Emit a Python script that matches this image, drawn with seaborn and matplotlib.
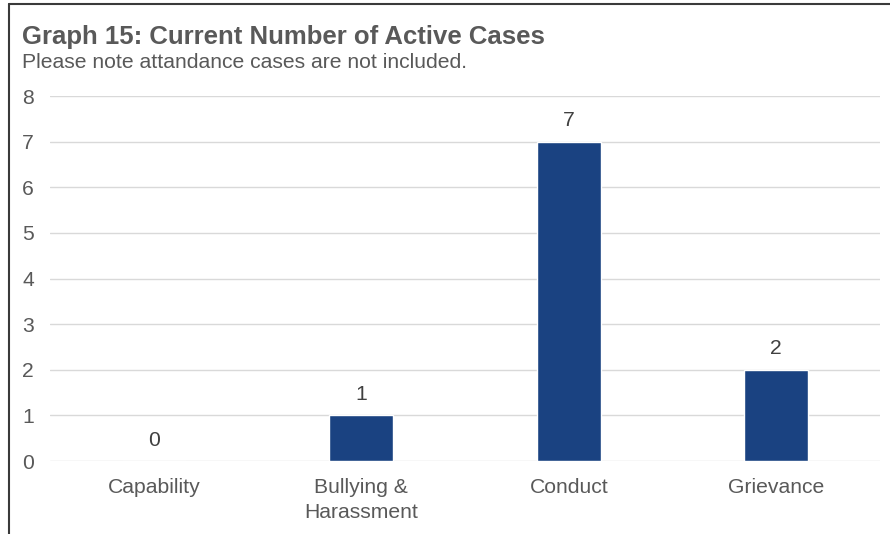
import matplotlib
matplotlib.use("Agg")
import matplotlib.pyplot as plt
from matplotlib.lines import Line2D
import seaborn as sns
import pandas as pd

categories = ["Capability", "Bullying &\nHarassment", "Conduct", "Grievance"]
active_cases = [0, 1, 7, 2]
y_ticks = [0, 1, 2, 3, 4, 5, 6, 7, 8]

sns.set_theme(style="white")
plt.rcParams["font.family"] = ["Liberation Sans", "DejaVu Sans"]

text_color = "#595959"
bar_color = "#1A4281"
fs = 15.2

df = pd.DataFrame({"category": categories, "cases": active_cases})

fig = plt.figure(figsize=(8.9, 5.34), dpi=100)
ax = fig.add_axes([0.0562, 0.1367, 0.9326, 0.6835])

sns.barplot(data=df, x="category", y="cases", color=bar_color, width=0.31,
            saturation=1, ax=ax)

ax.set_ylim(0, 8)
ax.set_xlim(-0.5, 3.5)
ax.set_yticks(y_ticks)
ax.yaxis.grid(True, color="#D9D9D9", linewidth=1)
ax.set_axisbelow(True)
for s in ax.spines.values():
    s.set_visible(False)
ax.tick_params(axis="both", length=0, labelsize=fs, labelcolor=text_color)
ax.tick_params(axis="y", pad=20)
ax.tick_params(axis="x", pad=12.5)
for lbl in ax.get_yticklabels():
    lbl.set_horizontalalignment("left")
for lbl in ax.get_xticklabels():
    lbl.set_linespacing(1.35)
ax.set_xlabel("")
ax.set_ylabel("")

for i, v in enumerate(active_cases):
    ax.annotate(str(v), (i, v), xytext=(0, 15), textcoords="offset points",
                ha="center", va="center", fontsize=fs, color="#404040")

fig.text(22 / 890, 1 - 37 / 534, "Graph 15: Current Number of Active Cases",
         fontsize=18.5, fontweight="bold", color=text_color, va="center", ha="left")
fig.text(22 / 890, 1 - 63 / 534, "Please note attandance cases are not included.",
         fontsize=fs, color=text_color, va="center", ha="left")

# frame edges
fig.add_artist(Line2D([8.5 / 890, 8.5 / 890], [0, 1 - 3.5 / 534],
                      transform=fig.transFigure, color="#3a3a3a", linewidth=1.5))
fig.add_artist(Line2D([8.5 / 890, 1], [1 - 3.5 / 534, 1 - 3.5 / 534],
                      transform=fig.transFigure, color="#3a3a3a", linewidth=1.5))

fig.savefig("out.png", dpi=100, facecolor="white")
